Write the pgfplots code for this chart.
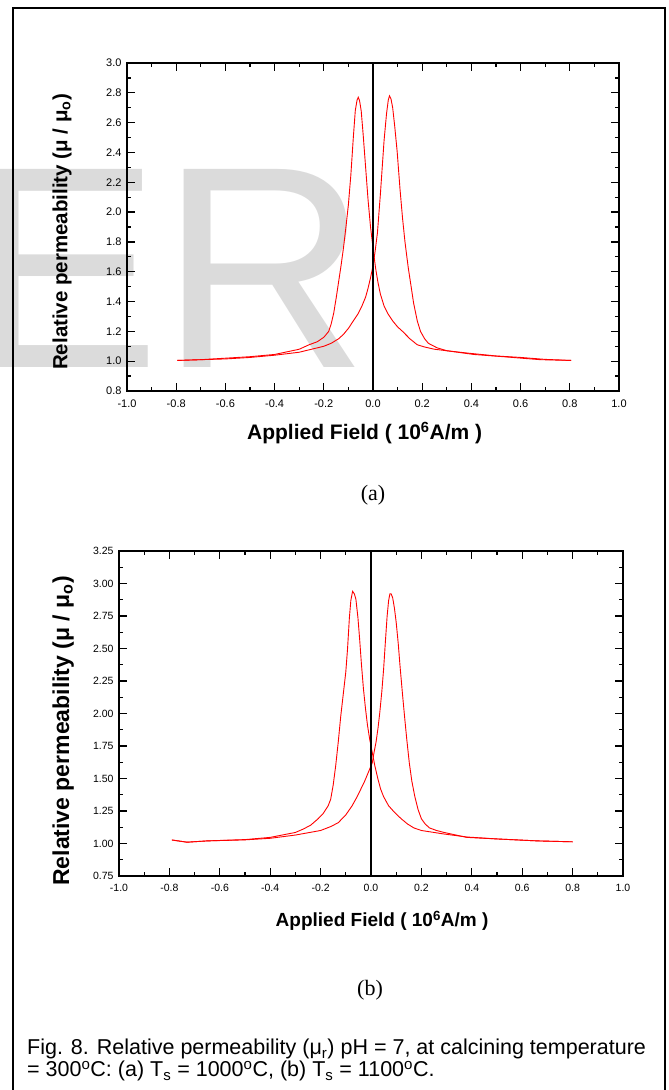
\documentclass[border=0pt]{standalone}
\usepackage{fontspec}
\setmainfont{Liberation Sans}
\newfontfamily\seriffont{Liberation Serif}
\usepackage{graphicx}
\usepackage{pgfplots}
\pgfplotsset{compat=1.18}

\pgfplotsset{
  myax/.style={
    scale only axis,
    anchor=south west,
    xmin=-1, xmax=1,
    xtick={-1,-0.8,-0.6,-0.4,-0.2,0,0.2,0.4,0.6,0.8,1},
    minor x tick num=1, minor y tick num=1,
    tick align=inside,
    major tick length=8pt, minor tick length=4pt,
    axis line style={line width=1.6pt},
    every tick/.style={black, line width=1.3pt},
    /pgf/number format/assume math mode=true,
    /pgf/number format/fixed, /pgf/number format/fixed zerofill,
    xticklabel style={/pgf/number format/precision=1, yshift=-5pt},
    yticklabel style={xshift=-2pt},
    clip=false,
  }
}

\begin{document}
\begin{tikzpicture}
\useasboundingbox (0pt,0pt) rectangle (669pt,1090pt);
% watermark
\node[anchor=base west, inner sep=0, text=black!14, font=\fontsize{288}{288}\selectfont] at (-32pt,722pt) {ER};
% frame
\draw[line width=1.3pt] (13pt,-2pt) -- (13pt,1082pt) -- (665pt,1082pt) -- (665pt,-2pt);

% ---------- (a) ----------
\begin{axis}[myax,
  at={(127pt,699pt)}, width=492pt, height=328pt,
  ymin=0.8, ymax=3.0,
  ytick={0.8,1.0,1.2,1.4,1.6,1.8,2.0,2.2,2.4,2.6,2.8,3.0},
  yticklabel style={/pgf/number format/precision=1},
  ticklabel style={font=\fontsize{11}{12}\selectfont},
  xlabel={Applied Field ( 10\textsuperscript{6}A/m )},
  xlabel style={at={(axis description cs:0.483,-0.128)}, anchor=center, font=\bfseries\fontsize{21}{21}\selectfont},
  ylabel={Relative permeability (μ / μ\textsubscript{o})},
  ylabel style={at={(axis description cs:-0.132,0.485)}, anchor=center, font=\bfseries\fontsize{20.5}{20.5}\selectfont},
]
\addplot[red, line width=0.9pt] coordinates {
(-0.795,1.005) (-0.7,1.01) (-0.6,1.02) (-0.5,1.03) (-0.4,1.045) (-0.3,1.08) (-0.26,1.11) (-0.227,1.13) (-0.2,1.16) (-0.18,1.2) (-0.17,1.25) (-0.16,1.32) (-0.15,1.42) (-0.14,1.53) (-0.13,1.64) (-0.12,1.76) (-0.11,1.9) (-0.1,2.05) (-0.09,2.25) (-0.08,2.5) (-0.072,2.68) (-0.065,2.75) (-0.06,2.77) (-0.055,2.75) (-0.048,2.68) (-0.04,2.52) (-0.03,2.3) (-0.02,2.08) (-0.01,1.9) (0,1.76) (0.01,1.63) (0.02,1.53) (0.03,1.45) (0.045,1.37) (0.06,1.32) (0.08,1.27) (0.1,1.23) (0.12,1.2) (0.15,1.15) (0.18,1.11) (0.21,1.095) (0.25,1.08) (0.3,1.07) (0.41,1.045) (0.53,1.03) (0.68,1.01) (0.805,1.005)
};
\addplot[red, line width=0.9pt] coordinates {
(-0.795,1.005) (-0.7,1.01) (-0.6,1.015) (-0.5,1.025) (-0.4,1.04) (-0.3,1.06) (-0.2,1.10) (-0.17,1.12) (-0.14,1.15) (-0.12,1.18) (-0.1,1.22) (-0.08,1.27) (-0.06,1.32) (-0.045,1.37) (-0.03,1.43) (-0.02,1.49) (-0.01,1.56) (0,1.64) (0.008,1.73) (0.018,1.86) (0.03,2.12) (0.045,2.48) (0.055,2.66) (0.062,2.75) (0.067,2.78) (0.073,2.76) (0.08,2.7) (0.088,2.58) (0.098,2.41) (0.11,2.15) (0.12,1.96) (0.13,1.8) (0.143,1.63) (0.155,1.5) (0.165,1.39) (0.18,1.27) (0.193,1.2) (0.21,1.15) (0.225,1.12) (0.26,1.09) (0.3,1.07) (0.38,1.055) (0.5,1.035) (0.6,1.025) (0.7,1.012) (0.805,1.005)
};
\addplot[black, line width=1.6pt] coordinates {(0,0.8) (0,3.0)};
\end{axis}
\node[font=\seriffont\fontsize{22}{22}\selectfont] at (373pt,595pt) {(a)};

% ---------- (b) ----------
\begin{axis}[myax,
  at={(119pt,214pt)}, width=504pt, height=325pt,
  ymin=0.75, ymax=3.25,
  ytick={0.75,1.0,1.25,1.5,1.75,2.0,2.25,2.5,2.75,3.0,3.25},
  yticklabel style={/pgf/number format/precision=2},
  ticklabel style={font=\fontsize{10.5}{12}\selectfont},
  xlabel={Applied Field ( 10\textsuperscript{6}A/m )},
  xlabel style={at={(axis description cs:0.522,-0.138)}, anchor=center, font=\bfseries\fontsize{19}{19}\selectfont},
  ylabel={Relative permeability (μ / μ\textsubscript{o})},
  ylabel style={at={(axis description cs:-0.111,0.446)}, anchor=center, font=\bfseries\fontsize{23}{23}\selectfont},
]
\addplot[red, line width=0.9pt] coordinates {
(-0.79,1.027) (-0.73,1.01) (-0.65,1.02) (-0.5,1.03) (-0.4,1.047) (-0.3,1.085) (-0.27,1.11) (-0.24,1.14) (-0.21,1.19) (-0.19,1.23) (-0.17,1.29) (-0.16,1.34) (-0.15,1.45) (-0.14,1.6) (-0.13,1.78) (-0.12,1.98) (-0.11,2.15) (-0.1,2.32) (-0.093,2.5) (-0.086,2.73) (-0.08,2.87) (-0.073,2.94) (-0.066,2.92) (-0.06,2.88) (-0.052,2.74) (-0.045,2.57) (-0.038,2.38) (-0.03,2.19) (-0.022,2.04) (-0.014,1.91) (-0.005,1.8) (0.005,1.7) (0.015,1.6) (0.027,1.5) (0.038,1.42) (0.05,1.36) (0.07,1.29) (0.093,1.24) (0.12,1.19) (0.145,1.15) (0.17,1.12) (0.2,1.1) (0.29,1.073) (0.38,1.05) (0.5,1.035) (0.66,1.02) (0.8,1.013)
};
\addplot[red, line width=0.9pt] coordinates {
(-0.79,1.027) (-0.73,1.01) (-0.65,1.02) (-0.5,1.028) (-0.4,1.04) (-0.3,1.065) (-0.2,1.1) (-0.16,1.13) (-0.13,1.16) (-0.1,1.22) (-0.075,1.29) (-0.055,1.36) (-0.04,1.42) (-0.025,1.48) (-0.01,1.55) (0.005,1.62) (0.012,1.7) (0.02,1.78) (0.028,1.89) (0.035,2.01) (0.043,2.17) (0.05,2.34) (0.057,2.55) (0.064,2.75) (0.07,2.87) (0.075,2.92) (0.08,2.92) (0.086,2.89) (0.093,2.81) (0.1,2.7) (0.108,2.54) (0.115,2.37) (0.124,2.17) (0.133,1.98) (0.142,1.8) (0.152,1.62) (0.162,1.48) (0.174,1.36) (0.187,1.26) (0.2,1.19) (0.215,1.15) (0.232,1.12) (0.26,1.1) (0.29,1.085) (0.38,1.047) (0.5,1.035) (0.66,1.02) (0.8,1.013)
};
\addplot[black, line width=1.6pt] coordinates {(0,0.75) (0,3.25)};
\end{axis}
\node[font=\seriffont\fontsize{22}{22}\selectfont] at (370pt,100pt) {(b)};

% caption
\node[anchor=base west, inner sep=0, font=\fontsize{21.5}{23}\selectfont] at (27pt,35pt) {Fig. 8. Relative permeability (μ\textsubscript{r}) pH = 7, at calcining temperature};
\node[anchor=base west, inner sep=0, font=\fontsize{21.5}{23}\selectfont] at (27pt,13pt) {= 300\textsuperscript{o}C: (a) T\textsubscript{s} = 1000\textsuperscript{o}C, (b) T\textsubscript{s} = 1100\textsuperscript{o}C.};
\end{tikzpicture}
\end{document}
